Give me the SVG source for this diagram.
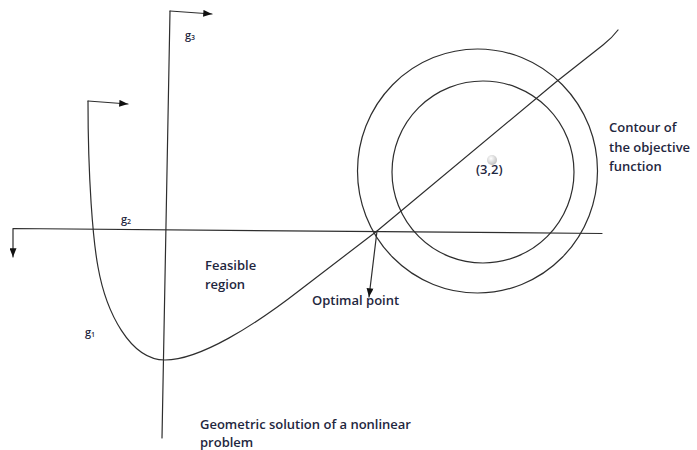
<svg xmlns="http://www.w3.org/2000/svg" width="697" height="450" viewBox="0 0 697 450">
<defs>
<style>
.ln{fill:none;stroke:#2e2e2e;stroke-width:1.2;stroke-linecap:round;stroke-linejoin:round}
.t{font-family:"Open Sans","Liberation Sans",sans-serif;font-size:13px;font-weight:600;fill:#1f2740}
.lab{font-family:"Open Sans","Liberation Sans",sans-serif;font-size:11px;font-weight:600;fill:#1f2740}
.sub{font-size:7px}
</style>
<marker id="ah" viewBox="0 0 10 8" refX="10" refY="4" markerWidth="10" markerHeight="7" markerUnits="userSpaceOnUse" orient="auto">
<path d="M0,0 L10,4 L0,8 Z" fill="#111"/>
</marker>
<radialGradient id="dot" cx="0.4" cy="0.35" r="0.7">
<stop offset="0" stop-color="#ffffff"/>
<stop offset="1" stop-color="#bdbdbd"/>
</radialGradient>
</defs>
<rect width="697" height="450" fill="#ffffff"/>

<g id="contours">
<ellipse class="ln" cx="477.5" cy="171" rx="120" ry="122"/>
<circle class="ln" cx="483" cy="172" r="91"/>
<circle cx="492" cy="160" r="5" fill="url(#dot)"/>
</g>

<g id="connectors">
<path id="g1-curve" class="ln" d="M88,101 C88,180 93,240 98,267 C106,312 130,360 165,360 C200,360 255,325 300,290 L377,231 L556,82 L603,45 Q612,38 618,30"/>
<path id="g1-flag" class="ln" d="M88,101 L128,104" marker-end="url(#ah)"/>
<path id="g3-line" class="ln" d="M162,438 L170,11"/>
<path id="g3-flag" class="ln" d="M170,11 L212,14" marker-end="url(#ah)"/>
<path id="g2-line" class="ln" d="M602,233.5 L13,228.5 L13,257" marker-end="url(#ah)"/>
<path id="optimal-arrow" class="ln" d="M377,231 L369,297" marker-end="url(#ah)"/>
</g>

<g id="label-g3"><text class="lab" x="185" y="39">g<tspan class="sub" dy="0.5">3</tspan></text></g>
<g id="label-g2"><text class="lab" x="121" y="223">g<tspan class="sub" dy="0.5">2</tspan></text></g>
<g id="label-g1"><text class="lab" x="85" y="336">g<tspan class="sub" dy="0.5">1</tspan></text></g>
<g id="label-feasible">
<text class="t" x="205" y="270">Feasible</text>
<text class="t" x="205" y="289">region</text>
</g>
<g id="label-optimal"><text class="t" x="312" y="305">Optimal point</text></g>
<g id="label-center"><text class="t" x="476" y="174">(3,2)</text></g>
<g id="label-contour">
<text class="t" x="609" y="132">Contour of</text>
<text class="t" x="609" y="151.5">the objective</text>
<text class="t" x="609" y="171">function</text>
</g>
<g id="caption">
<text class="t" x="200" y="429">Geometric solution of a nonlinear</text>
<text class="t" x="200" y="447">problem</text>
</g>
</svg>
